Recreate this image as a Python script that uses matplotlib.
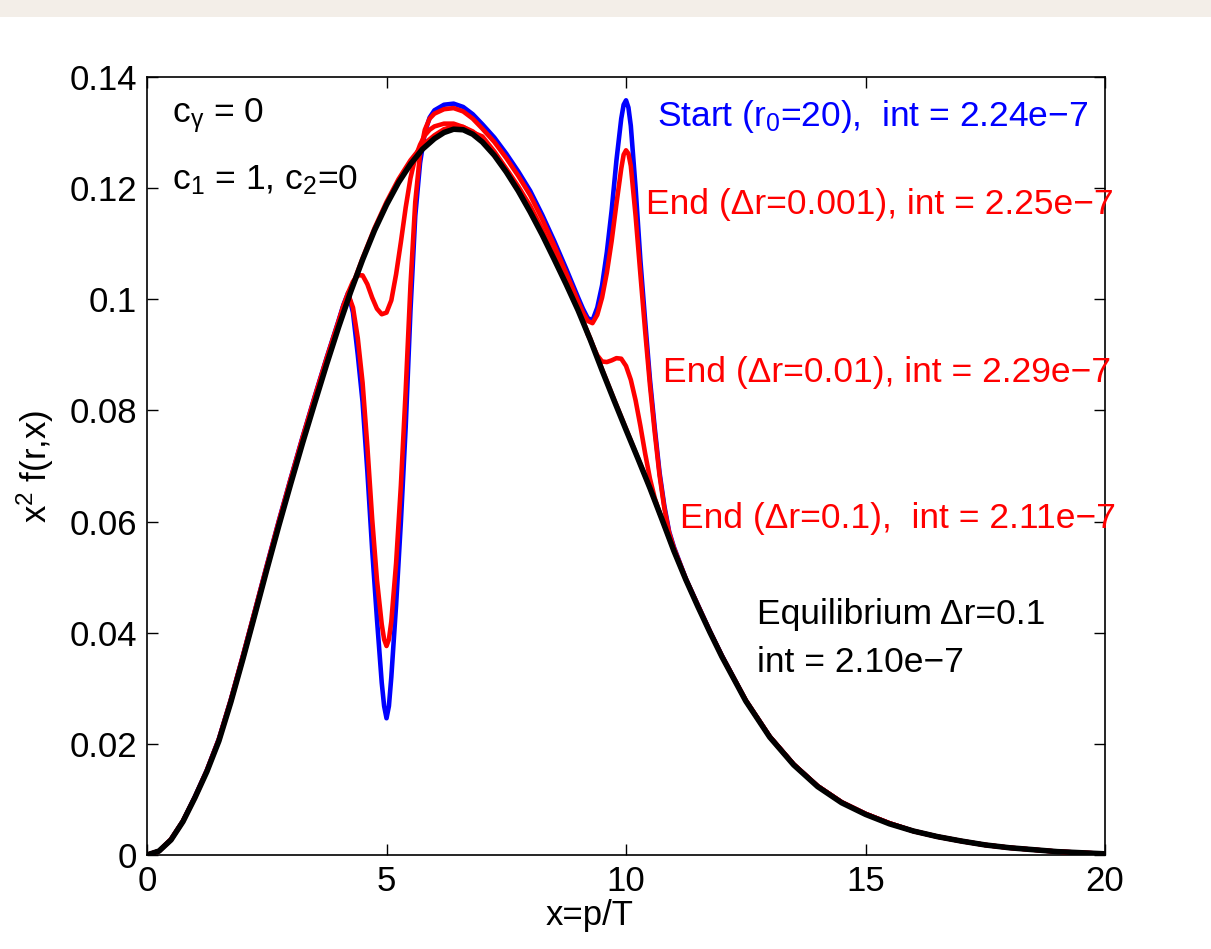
"""
Relaxation of x^2 f(r,x) towards equilibrium for different radial steps.
"""

import matplotlib
matplotlib.use("Agg")
import matplotlib.pyplot as plt
from matplotlib.patches import Rectangle

plt.rcParams['font.family'] = ['Liberation Sans', 'DejaVu Sans']
plt.rcParams['mathtext.fontset'] = 'custom'
plt.rcParams['mathtext.rm'] = 'Liberation Sans'
plt.rcParams['mathtext.it'] = 'Liberation Sans:italic'

# ---- data -------------------------------------------------------------
# initial spectrum (r0 = 20) and end spectrum for dr = 0.001 share this grid
x_start = [0, 0.25, 0.5, 0.75, 1.0,
           1.25, 1.5, 1.75, 2.0,
           2.25, 2.5, 2.75, 3.0,
           3.25, 3.5, 3.75, 4.0,
           4.1, 4.2, 4.3, 4.4, 4.5,
           4.6, 4.7, 4.8, 4.9, 4.95,
           5.0, 5.05, 5.1, 5.2, 5.3,
           5.4, 5.5, 5.6, 5.7, 5.8,
           5.9, 6.0, 6.2, 6.4, 6.6,
           6.8, 7.0, 7.25, 7.5, 7.75,
           8.0, 8.25, 8.5, 8.75, 9.0,
           9.1, 9.2, 9.3, 9.4, 9.5,
           9.6, 9.7, 9.8, 9.9, 9.95,
           10.0, 10.05, 10.1, 10.2, 10.3,
           10.4, 10.5, 10.6, 10.7, 10.8,
           10.9, 11.0, 11.25, 11.5, 11.75,
           12.0, 12.5, 13.0, 13.5, 14.0,
           14.5, 15.0, 15.5, 16.0, 16.5,
           17.0, 17.5, 18.0, 19.0, 20.0]
y_start = [0, 0.0007, 0.0028, 0.0061, 0.0105,
           0.0153, 0.0209, 0.0280, 0.0358,
           0.0439, 0.0521, 0.0601, 0.0678,
           0.0753, 0.0825, 0.0895, 0.0962,
           0.0990, 0.1012, 0.0976, 0.0900, 0.0815,
           0.0690, 0.0550, 0.0425, 0.0310, 0.0268,
           0.0246, 0.0268, 0.0320, 0.0450, 0.0600,
           0.0770, 0.0980, 0.1150, 0.1245, 0.1300,
           0.1327, 0.1340, 0.1350, 0.1352, 0.1346,
           0.1333, 0.1315, 0.1291, 0.1262, 0.1230,
           0.1195, 0.1152, 0.1105, 0.1055, 0.1003,
           0.0983, 0.0966, 0.0962, 0.0985, 0.1025,
           0.1085, 0.1160, 0.1250, 0.1325, 0.1350,
           0.1358, 0.1345, 0.1312, 0.1200, 0.1070,
           0.0960, 0.0855, 0.0768, 0.0688, 0.0628,
           0.0582, 0.0554, 0.0497, 0.0450, 0.0403,
           0.0359, 0.0278, 0.0213, 0.0163, 0.0124,
           0.0095, 0.0074, 0.0057, 0.0043, 0.0033,
           0.0025, 0.0018, 0.0013, 0.0006, 0.0002]
y_end_001 = [0, 0.0007, 0.0028, 0.0061, 0.0104,
             0.0152, 0.0208, 0.0279, 0.0357,
             0.0438, 0.0519, 0.0599, 0.0676,
             0.0751, 0.0823, 0.0893, 0.0960,
             0.0988, 0.1009, 0.0985, 0.0930, 0.0850,
             0.0735, 0.0605, 0.0495, 0.0415, 0.0388,
             0.0376, 0.0388, 0.0420, 0.0525, 0.0665,
             0.0835, 0.1025, 0.1175, 0.1262, 0.1305,
             0.1325, 0.1334, 0.1342, 0.1344, 0.1338,
             0.1325, 0.1307, 0.1283, 0.1254, 0.1222,
             0.1187, 0.1144, 0.1097, 0.1047, 0.0996,
             0.0976, 0.0961, 0.0957, 0.0972, 0.1003,
             0.1048, 0.1105, 0.1172, 0.1235, 0.1260,
             0.1268, 0.1262, 0.1240, 0.1150, 0.1045,
             0.0942, 0.0845, 0.0760, 0.0683, 0.0624,
             0.0580, 0.0552, 0.0496, 0.0449, 0.0402,
             0.0358, 0.0278, 0.0213, 0.0163, 0.0124,
             0.0095, 0.0074, 0.0057, 0.0043, 0.0033,
             0.0025, 0.0018, 0.0013, 0.0006, 0.0002]

# end spectrum, dr = 0.01
x_end_01 = [0, 0.25, 0.5, 0.75, 1.0,
            1.25, 1.5, 1.75, 2.0,
            2.25, 2.5, 2.75, 3.0,
            3.25, 3.5, 3.75, 4.0,
            4.1, 4.2, 4.3, 4.4, 4.5,
            4.6, 4.7, 4.8, 4.9, 5.0,
            5.1, 5.2, 5.3, 5.4, 5.5,
            5.6, 5.7, 5.8, 5.9, 6.0,
            6.2, 6.4, 6.6, 6.8, 7.0,
            7.25, 7.5, 7.75, 8.0, 8.25,
            8.5, 8.75, 9.0, 9.1, 9.2,
            9.3, 9.4, 9.5, 9.6, 9.7,
            9.8, 9.9, 10.0, 10.1, 10.2,
            10.3, 10.4, 10.5, 10.6, 10.7,
            10.8, 10.9, 11.0, 11.25, 11.5,
            11.75, 12.0, 12.5, 13.0, 13.5,
            14.0, 14.5, 15.0, 15.5, 16.0,
            16.5, 17.0, 17.5, 18.0, 19.0,
            20.0]
y_end_01 = [0, 0.0007, 0.0028, 0.0061, 0.0104,
            0.0152, 0.0208, 0.0279, 0.0357,
            0.0438, 0.0519, 0.0599, 0.0676,
            0.0751, 0.0823, 0.0893, 0.0960,
            0.0988, 0.1012, 0.1032, 0.1043, 0.1043,
            0.1027, 0.1003, 0.0983, 0.0973, 0.0976,
            0.0998, 0.1045, 0.1103, 0.1165, 0.1218,
            0.1255, 0.1278, 0.1295, 0.1305, 0.1311,
            0.1316, 0.1316, 0.1310, 0.1300, 0.1293,
            0.1266, 0.1235, 0.1203, 0.1168, 0.1126,
            0.1080, 0.1032, 0.0985, 0.0962, 0.0937,
            0.0918, 0.0899, 0.0888, 0.0887, 0.0890,
            0.0894, 0.0893, 0.0880, 0.0855, 0.0818,
            0.0772, 0.0722, 0.0677, 0.0642, 0.0616,
            0.0596, 0.0575, 0.0551, 0.0496, 0.0449,
            0.0402, 0.0358, 0.0278, 0.0213, 0.0163,
            0.0124, 0.0095, 0.0074, 0.0057, 0.0043,
            0.0033, 0.0025, 0.0018, 0.0013, 0.0006,
            0.0002]

# end spectrum dr = 0.1 and equilibrium share this grid
x_eq = [0, 0.25, 0.5, 0.75, 1.0,
        1.25, 1.5, 1.75, 2.0, 2.25,
        2.5, 2.75, 3.0, 3.25, 3.5,
        3.75, 4.0, 4.25, 4.5, 4.75,
        5.0, 5.25, 5.5, 5.75, 6.0,
        6.2, 6.4, 6.6, 6.8, 7.0,
        7.25, 7.5, 7.75, 8.0, 8.25,
        8.5, 8.75, 9.0, 9.25, 9.5,
        9.75, 10.0, 10.25, 10.5, 10.75,
        11.0, 11.25, 11.5, 11.75, 12.0,
        12.5, 13.0, 13.5, 14.0, 14.5,
        15.0, 15.5, 16.0, 16.5, 17.0,
        17.5, 18.0, 19.0, 20.0]
y_end_1 = [0, 0.0007, 0.0027, 0.0060, 0.0103,
           0.0151, 0.0206, 0.0276, 0.0353, 0.0433,
           0.0515, 0.0594, 0.0670, 0.0745, 0.0816,
           0.0886, 0.0953, 0.1016, 0.1074, 0.1128,
           0.1175, 0.1216, 0.1250, 0.1277, 0.1295,
           0.1306, 0.1311, 0.1310, 0.1302, 0.1288,
           0.1264, 0.1233, 0.1199, 0.1161, 0.1119,
           0.1075, 0.1029, 0.0982, 0.0930, 0.0874,
           0.0820, 0.0767, 0.0714, 0.0661, 0.0605,
           0.0548, 0.0496, 0.0448, 0.0402, 0.0358,
           0.0278, 0.0213, 0.0163, 0.0124, 0.0095,
           0.0074, 0.0057, 0.0043, 0.0033, 0.0025,
           0.0018, 0.0013, 0.0006, 0.0002]
y_eq = [0, 0.0007, 0.0027, 0.0060, 0.0103,
        0.0150, 0.0205, 0.0275, 0.0352, 0.0432,
        0.0513, 0.0592, 0.0668, 0.0742, 0.0813,
        0.0883, 0.0950, 0.1013, 0.1071, 0.1124,
        0.1170, 0.1210, 0.1243, 0.1270, 0.1289,
        0.1300, 0.1306, 0.1305, 0.1297, 0.1283,
        0.1259, 0.1229, 0.1195, 0.1157, 0.1116,
        0.1072, 0.1027, 0.0980, 0.0928, 0.0872,
        0.0818, 0.0765, 0.0713, 0.0660, 0.0604,
        0.0547, 0.0495, 0.0447, 0.0401, 0.0357,
        0.0277, 0.0212, 0.0162, 0.0123, 0.0094,
        0.0073, 0.0056, 0.0043, 0.0033, 0.0025,
        0.0018, 0.0013, 0.0006, 0.0002]

x_ticks = [0, 5, 10, 15, 20]
y_ticks = [0, 0.02, 0.04, 0.06, 0.08, 0.1, 0.12, 0.14]
y_tick_labels = ['0', '0.02', '0.04', '0.06', '0.08', '0.1', '0.12', '0.14']

# ---- figure -----------------------------------------------------------
fig = plt.figure(figsize=(12.11, 9.49), dpi=100)
fig.patches.append(Rectangle((0, 0.982), 1, 0.018, transform=fig.transFigure,
                             facecolor='#f3eee8', edgecolor='none', zorder=0))
ax = fig.add_axes([0.1214, 0.0991, 0.7911, 0.8198])

lw = 3.3
kw = dict(solid_joinstyle='round', solid_capstyle='round')
ax.plot(x_start, y_start, color='#0000ff', lw=lw, zorder=2, **kw)
ax.plot(x_start, y_end_001, color='#ff0000', lw=lw, zorder=3, **kw)
ax.plot(x_end_01, y_end_01, color='#ff0000', lw=lw, zorder=3, **kw)
ax.plot(x_eq, y_end_1, color='#ff0000', lw=lw, zorder=3, **kw)
ax.plot(x_eq, y_eq, color='black', lw=4.0, zorder=4, **kw)

ax.set_xlim(0, 20)
ax.set_ylim(0, 0.14)
ax.set_xticks(x_ticks)
ax.set_xticklabels([str(t) for t in x_ticks])
ax.set_yticks(y_ticks)
ax.set_yticklabels(y_tick_labels)
ax.tick_params(direction='in', length=8, width=1, top=True, right=True,
               labelsize=25, pad=7)
for s in ax.spines.values():
    s.set_linewidth(1.2)

ax.set_xlabel('x=p/T', fontsize=25)
ax.xaxis.set_label_coords(0.462, -0.056, transform=ax.transAxes)
ax.xaxis.label.set_va('top')
ax.set_ylabel(r'x$^\mathregular{2}$ f(r,x)', fontsize=25, labelpad=10)

# annotations
fs = 25.5
ax.text(0.52, 0.1330, r'c$_\mathregular{γ}$ = 0', fontsize=fs, va='center')
ax.text(0.52, 0.1215, r'c$_\mathregular{1}$ = 1, c$_\mathregular{2}$=0',
        fontsize=fs, va='center')
ax.text(10.65, 0.1328, 'Start (r$_\\mathregular{0}$=20),  int = 2.24e\u22127',
        color='#0000ff', fontsize=fs, va='center')
ax.text(10.42, 0.1170, 'End (\u0394r=0.001), int = 2.25e\u22127',
        color='#ff0000', fontsize=fs, va='center', clip_on=False)
ax.text(10.77, 0.0869, 'End (\u0394r=0.01), int = 2.29e\u22127',
        color='#ff0000', fontsize=fs, va='center', clip_on=False)
ax.text(11.13, 0.0606, 'End (\u0394r=0.1),  int = 2.11e\u22127',
        color='#ff0000', fontsize=fs, va='center', clip_on=False)
ax.text(12.73, 0.0432, 'Equilibrium \u0394r=0.1', fontsize=fs, va='center')
ax.text(12.73, 0.0347, 'int = 2.10e\u22127', fontsize=fs, va='center')

fig.savefig('out.png', dpi=100)
